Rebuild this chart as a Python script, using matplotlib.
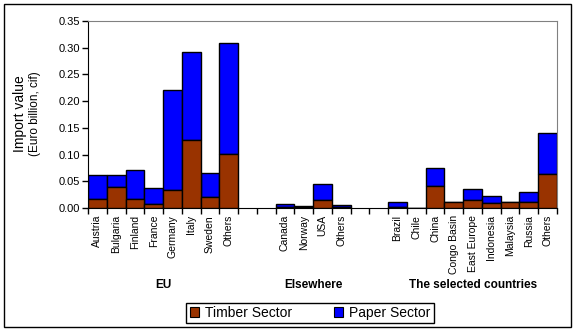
import numpy as np
import matplotlib
matplotlib.use("Agg")
import matplotlib.pyplot as plt
from matplotlib.patches import Rectangle, Patch
from matplotlib.transforms import blended_transform_factory

plt.rcParams["font.family"] = ["Liberation Sans", "DejaVu Sans"]

# -------- data (Euro billion, cif) --------
groups = ["EU", "Elsewhere", "The selected countries"]
eu = ["Austria", "Bulgaria", "Finland", "France", "Germany", "Italy", "Sweden", "Others"]
elsewhere = ["Canada", "Norway", "USA", "Others"]
selected = ["Brazil", "Chile", "China", "Congo Basin", "East Europe",
            "Indonesia", "Malaysia", "Russia", "Others"]

timber_eu = [0.017, 0.039, 0.017, 0.008, 0.034, 0.127, 0.020, 0.101]
paper_eu = [0.045, 0.023, 0.054, 0.029, 0.187, 0.165, 0.045, 0.208]
timber_else = [0.001, 0.002, 0.015, 0.0025]
paper_else = [0.007, 0.0025, 0.0305, 0.003]
timber_sel = [0.002, 0.0, 0.041, 0.012, 0.015, 0.0095, 0.012, 0.012, 0.064]
paper_sel = [0.010, 0.0, 0.034, 0.0, 0.0205, 0.013, 0.0, 0.018, 0.076]

GAP = 2  # empty slots between groups

labels, timber, paper, slots = [], [], [], []
pos = 0
group_centres = []
for names, t, p in [(eu, timber_eu, paper_eu),
                    (elsewhere, timber_else, paper_else),
                    (selected, timber_sel, paper_sel)]:
    start = pos
    for n, tv, pv in zip(names, t, p):
        labels.append(n)
        timber.append(tv)
        paper.append(pv)
        slots.append(pos + 0.5)
        pos += 1
    group_centres.append((start + pos) / 2)
    pos += GAP
n_slots = pos - GAP

TIMBER_C = "#993300"
PAPER_C = "#0000ff"

# -------- figure --------
fig = plt.figure(figsize=(5.77, 3.32), dpi=100)
ax = fig.add_axes([88 / 577, 1 - 208 / 332, (557 - 88) / 577, (208 - 21) / 332])

ax.bar(slots, timber, width=1.0, color=TIMBER_C, edgecolor="black", linewidth=1, zorder=3)
ax.bar(slots, paper, width=1.0, bottom=timber, color=PAPER_C, edgecolor="black",
       linewidth=1, zorder=2)

ax.set_xlim(0, n_slots)
ax.set_ylim(0, 0.35)
ax.set_yticks(np.arange(0, 0.351, 0.05))
ax.set_yticklabels([f"{v:.2f}" for v in np.arange(0, 0.351, 0.05)], fontsize=8)
ax.tick_params(axis="y", direction="out", length=4, width=1, pad=2)

ax.set_xticks(slots)
ax.set_xticklabels(labels, rotation=90, fontsize=7.5, va="top")
ax.tick_params(axis="x", which="major", length=0, pad=5)
ax.set_xticks(np.arange(0, n_slots + 1), minor=True)
ax.tick_params(axis="x", which="minor", direction="out", length=4, width=1)

for side in ["top", "right"]:
    ax.spines[side].set_color("#808080")
for side in ["left", "bottom"]:
    ax.spines[side].set_color("black")

# axis title in two sizes
fig.text(20 / 577, 1 - 114 / 332, "Import value", rotation=90, fontsize=10,
         ha="center", va="center")
fig.text(35 / 577, 1 - 114 / 332, "(Euro billion, cif)", rotation=90, fontsize=8.5,
         ha="center", va="center")

# group names under the country labels
trans = blended_transform_factory(ax.transData, fig.transFigure)
for g, c in zip(groups, group_centres):
    ax.text(c, 1 - 285 / 332, g, transform=trans, ha="center", va="center",
            fontsize=8.5, fontweight="bold")

handles = [Patch(facecolor=TIMBER_C, edgecolor="black", linewidth=0.8),
           Patch(facecolor=PAPER_C, edgecolor="black", linewidth=0.8)]
leg = fig.legend(handles, ["Timber Sector", "Paper Sector"], loc="center",
                 bbox_to_anchor=(310 / 577, 1 - 313 / 332), ncol=2, fontsize=10,
                 frameon=True, fancybox=False, edgecolor="black", framealpha=1,
                 handlelength=0.7, handleheight=0.7, handletextpad=0.4,
                 columnspacing=3.0, borderpad=0.25, borderaxespad=0)
leg.get_frame().set_linewidth(1)

# outer frame
fig.patches.append(Rectangle((4 / 577, 1 - 327 / 332), 567 / 577, 323 / 332,
                             transform=fig.transFigure, fill=False,
                             edgecolor="black", linewidth=1))

fig.savefig("out.png", dpi=100)
